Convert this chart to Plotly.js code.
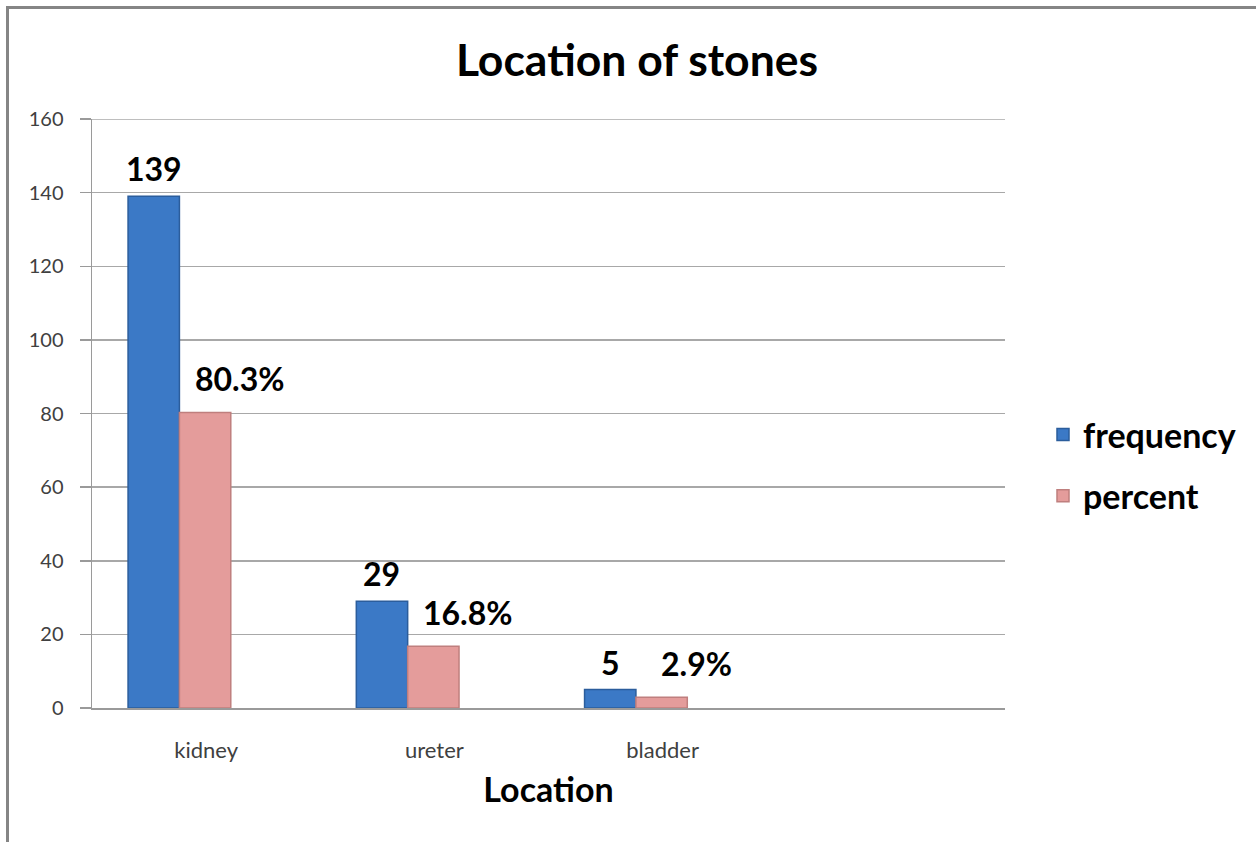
<!DOCTYPE html>
<html>
<head>
<meta charset="utf-8">
<script src="https://cdn.plot.ly/plotly-3.0.1.min.js"></script>
<style>
  html, body { margin: 0; padding: 0; background: #ffffff; }
  #wrap { position: relative; width: 1256px; height: 842px; overflow: hidden; }
  #chart { position: absolute; left: 0; top: 0; width: 1256px; height: 842px; }
  #frame {
    position: absolute; left: 6px; top: 6px; right: -10px; bottom: -10px;
    border-left: 3px solid #858585; border-top: 3px solid #858585;
    pointer-events: none;
  }
</style>
</head>
<body>
<div id="wrap">
  <div id="chart"></div>
  <div id="frame"></div>
</div>
<script>
// Stone locations and their counts / shares
const locations = ["kidney", "ureter", "bladder"];
const frequency = [139, 29, 5];
const percent = [80.3, 16.8, 2.9];
const seriesNames = ["frequency", "percent"];
const yTicks = [0, 20, 40, 60, 80, 100, 120, 140, 160];

// axis holds one spare, empty slot on the right
const categorySlots = locations.concat([" "]);

const FONT = "Lato, 'Open Sans', sans-serif";
const GRID = "#a8a8a8";
const BAR_W = 0.225;
const BLUE_OFF = -0.342;
const PINK_OFF = BLUE_OFF + BAR_W;
const PX_PER_CAT = 913 / categorySlots.length;

const blue = {
  type: "bar", name: seriesNames[0], legendgroup: "a",
  x: locations, y: frequency,
  width: BAR_W, offset: BLUE_OFF,
  marker: { color: "#3b79c6", line: { color: "#2b5d9c", width: 1.5 } },
  hoverinfo: "x+y"
};
const pink = {
  type: "bar", name: seriesNames[1], legendgroup: "b",
  x: locations, y: percent,
  width: BAR_W, offset: PINK_OFF,
  marker: { color: "#e49c9b", line: { color: "#bf7f7e", width: 1.5 } },
  hoverinfo: "x+y"
};

const labelFont = { family: FONT, size: 32, color: "#000000", weight: 700 };
const annotations = [];
locations.forEach((loc, i) => {
  annotations.push({
    x: loc, y: frequency[i], xref: "x", yref: "y",
    text: "<b>" + frequency[i] + "</b>", showarrow: false,
    yanchor: "bottom", xanchor: "center",
    xshift: (BLUE_OFF + BAR_W / 2) * PX_PER_CAT, yshift: 6,
    font: labelFont
  });
  annotations.push({
    x: loc, y: percent[i], xref: "x", yref: "y",
    text: "<b>" + percent[i].toFixed(1) + "%</b>", showarrow: false,
    yanchor: "bottom", xanchor: "center",
    xshift: 34, yshift: 12,
    font: labelFont
  });
});

// the top gridline sits on the plot edge, so it is drawn as a shape
const topValue = yTicks[yTicks.length - 1];
const shapes = [{
  type: "line", xref: "paper", yref: "y",
  x0: 0, x1: 1, y0: topValue, y1: topValue,
  line: { color: GRID, width: 1.5 }, layer: "below"
}];

const layout = {
  width: 1256, height: 842,
  paper_bgcolor: "#ffffff", plot_bgcolor: "#ffffff",
  margin: { l: 92, r: 251, t: 119, b: 134, pad: 0 },
  barmode: "overlay",
  title: {
    text: "<b>Location of stones</b>",
    font: { family: FONT, size: 44.5, color: "#000000" },
    x: 637 / 1256, xref: "container", xanchor: "center",
    y: 1 - 60 / 842, yref: "container", yanchor: "middle"
  },
  xaxis: {
    type: "category",
    categoryorder: "array", categoryarray: categorySlots,
    range: [-0.5, categorySlots.length - 0.5],
    tickvals: locations, ticktext: locations,
    showgrid: false, zeroline: false,
    showline: true, linecolor: "#9a9a9a", linewidth: 1.5,
    ticks: "", ticklabelstandoff: 22,
    tickfont: { family: FONT, size: 22, color: "#404040" },
    title: {
      text: "<b>Location</b>", standoff: 16,
      font: { family: FONT, size: 34, color: "#000000" }
    },
    fixedrange: true
  },
  yaxis: {
    range: [0, topValue], tickvals: yTicks, ticktext: yTicks.map(String),
    showgrid: true, gridcolor: GRID, gridwidth: 1.5,
    zeroline: false,
    showline: true, linecolor: "#9a9a9a", linewidth: 1.5,
    ticks: "outside", ticklen: 11, tickcolor: "#9a9a9a", tickwidth: 1.5,
    ticklabelstandoff: 12,
    tickfont: { family: FONT, size: 20, color: "#404040" },
    fixedrange: true
  },
  showlegend: true,
  legend: {
    x: 1043 / 1256, xref: "container", xanchor: "left",
    y: 1 - 406 / 842, yref: "container", yanchor: "top",
    font: { family: FONT, size: 34, color: "#000000", weight: 700 },
    tracegroupgap: 14, itemwidth: 30,
    bgcolor: "rgba(0,0,0,0)"
  },
  shapes: shapes,
  annotations: annotations
};

Plotly.newPlot("chart", [blue, pink], layout, { displayModeBar: false, staticPlot: true });
</script>
</body>
</html>
